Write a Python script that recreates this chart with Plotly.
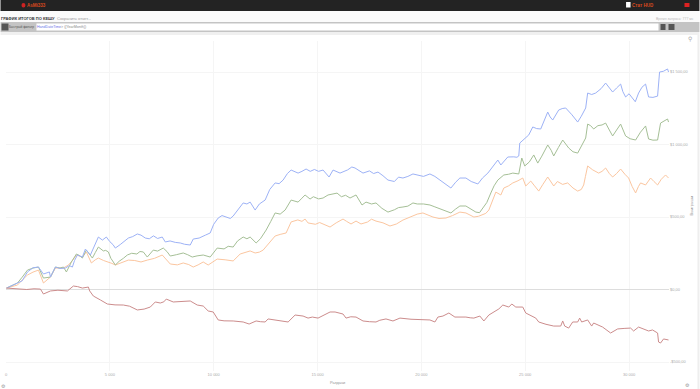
import plotly.graph_objects as go

hands_blue = [24,553,1034,1563,1803,2091,2140,2380,2861,3197,3438,3678,3822,4063,4447,4640,4832,5265,5890,6322,6707,7524,7669,8390,8871,9015,9832,10217,10650,10938,11419,11755,11996,12477,12958,13343,13728,14064,14449,15266,15555,15747,16084,16805,17190,17911,18392,19113,19594,20412,20893,21422,21855,22143,22720,23201,23681,23826,24162,24690,24738,25171,25363,25747,26084,26324,26612,26949,27526,27911,28007,28392,28872,29209,29594,29834,30171,30459,30796,30940,31373,31469,31853,31901]
winnings_blue = [10,45,121,155,107,121,86,155,148,155,238,224,279,238,362,341,362,286,355,383,355,362,328,321,307,348,390,493,500,507,597,603,548,617,735,755,824,803,831,824,776,824,803,838,803,810,755,769,797,797,755,700,769,769,728,803,893,859,914,921,1010,1066,1121,1107,1224,1169,1238,1252,1155,1252,1355,1355,1424,1362,1417,1328,1321,1355,1417,1328,1334,1500,1521,1500]
hands_blue_more = [780,1300,2600,3050,3300,5000,5150,5500,5700,6100,6500,6900,7100,7300,7900,8150,8600,9300,9600,10000,10400,10800,11150,11600,12200,12700,13150,13550,14250,14650,14850,15050,16450,16650,17500,17700,18150,18700,18900,19350,19850,20100,20650,21100,21650,22400,22950,23450,24450,24600,25550,26200,26780,27250,27700,28200,28650,29050,29400,29700,30000,30300,30620,31150,31650]
winnings_blue_more = [60,150,145,165,200,330,310,310,330,365,375,350,370,352,335,325,312,355,375,450,510,490,550,590,590,690,730,800,815,815,828,815,825,845,818,800,785,745,775,780,790,780,780,735,740,745,770,850,915,912,1110,1190,1248,1205,1195,1345,1385,1395,1390,1365,1350,1295,1395,1325,1505]

hands_green = [24,553,1034,1563,1803,2140,2380,2765,2909,3390,3678,3870,4159,4447,4688,4928,5265,5842,6611,6803,7091,7572,7909,8534,8967,9496,9832,10169,10938,11419,11755,12044,12525,12958,13439,13728,14064,14400,14640,15266,15507,15940,16565,16853,17141,17334,17815,18392,19113,19594,20412,20893,21422,21855,22143,22624,22960,23345,23681,23970,24402,24690,24834,24978,25411,25604,26084,26373,26805,27093,27526,27911,28007,28296,28872,29209,29594,29834,30315,30796,30940,31373,31517,31853,31901]
winnings_green = [10,45,134,155,79,86,155,155,121,245,217,272,217,293,266,259,169,238,259,224,272,286,231,252,224,238,224,286,293,362,362,321,410,528,548,617,603,652,624,631,652,665,631,652,583,603,597,534,569,597,583,555,528,576,576,534,562,666,755,790,803,797,907,852,928,872,997,921,1031,976,941,1045,1141,1107,1148,1059,1141,1059,1031,1128,1038,1031,1148,1176,1155]
hands_green_more = [780,1300,2600,3150,3530,4300,4800,5050,5450,5650,6050,6300,6450,6950,7300,7750,8200,8750,9200,10500,10700,11150,11600,12250,12750,13200,14250,14800,15050,15750,16150,16350,17600,18100,18700,18900,19350,19800,20100,20650,21150,21650,22400,22800,23150,23500,24200,25200,25800,26250,26600,27300,27700,28150,28500,28700,29050,29400,30050,30550,31150]
winnings_green_more = [85,148,148,190,235,255,270,215,195,215,250,245,262,250,265,262,240,240,232,280,298,335,350,350,470,520,630,640,625,660,640,650,590,560,550,565,575,590,590,570,540,555,555,530,600,715,795,880,920,960,980,950,990,1130,1130,1135,1100,1100,1040,1085,1030]

hands_orange = [24,553,1034,1563,1803,2140,2380,2765,3005,3390,3678,3870,4111,4447,4928,5265,5890,6803,7524,7909,8534,9015,9496,9736,10169,10938,11275,11755,11996,12381,12958,13487,13728,14400,14544,15266,15603,16228,16613,16853,17093,17815,18488,19113,20075,20556,21181,21855,22143,22528,22960,23249,23585,23826,23970,24402,24882,25026,25267,25651,26084,26373,27045,27526,27815,28007,28536,28872,29209,29594,29979,30315,30555,30796,31036,31373,31757,31901]
winnings_orange = [10,31,100,134,45,86,148,148,169,238,224,259,183,217,190,169,203,203,238,176,183,155,190,169,210,197,245,266,252,272,369,390,466,486,459,452,431,486,452,472,452,472,438,479,528,500,493,534,528,500,514,548,672,652,700,735,769,714,748,679,776,714,735,679,721,852,803,838,776,831,769,666,735,721,769,721,790,769]
hands_orange_more = [780,1300,2600,3200,3530,4300,4700,5100,5600,6200,6500,7150,7750,8250,8800,9250,10550,11500,12200,12650,13200,14050,14250,14900,15100,15900,16400,17400,17600,18150,18800,19500,19800,20300,20850,21500,22750,23100,23450,24200,24650,25450,25850,26550,26800,27300,27700,27900,28250,28700,29050,29400,29800,30150,30450,31200,31550]
winnings_orange_more = [65,120,150,200,232,205,200,180,190,200,190,215,205,170,172,170,205,255,258,320,380,480,470,450,462,460,470,465,485,460,452,500,520,515,490,510,505,525,620,715,750,715,725,745,725,700,690,780,825,815,800,800,795,710,710,745,760]

hands_red = [24,553,1659,1803,2140,2957,3245,3678,3967,4207,4544,4880,5649,6322,6947,7188,7428,7717,8053,8871,9207,9496,9736,9977,10217,10938,11419,11707,12044,12477,12621,13006,13583,13920,14304,14544,15025,15603,15844,16228,16372,16853,17190,17815,18296,18632,18969,20412,20652,20796,21037,21325,21614,22143,22528,22816,23008,23249,23730,23922,24210,24354,24547,24882,25026,25507,25651,26373,26709,26805,26901,27093,27286,27526,27622,27718,28007,28200,28296,28728,29113,29450,30075,30219,30459,30940,31132,31373,31421,31517,31661,31901]
winnings_red = [10,3,3,-31,-10,-10,24,10,17,-45,-72,-100,-107,-141,-121,-86,-93,-66,-86,-79,-107,-114,-148,-155,-210,-217,-224,-238,-217,-224,-203,-210,-224,-176,-183,-197,-197,-155,-155,-169,-197,-190,-217,-224,-203,-217,-197,-210,-224,-190,-183,-162,-190,-190,-197,-183,-217,-176,-134,-107,-121,-100,-121,-121,-162,-197,-224,-252,-252,-217,-252,-266,-224,-224,-197,-224,-210,-252,-231,-259,-300,-272,-266,-286,-259,-286,-279,-300,-362,-369,-341,-348]
hands_red_more = [1000,1350,2500,3450,4030,4700,5250,5950,6650,7600,8500,9350,10500,11200,12250,13300,14100,14750,15300,16000,16600,17500,18000,19500,20000,21850,22350,23500,26000,28500,29800]
winnings_red_more = [0,5,-5,20,-10,-85,-106,-115,-135,-85,-82,-112,-216,-222,-222,-218,-180,-190,-178,-160,-188,-222,-212,-205,-208,-188,-195,-155,-240,-245,-268]

x_ticks = [0,5000,10000,15000,20000,25000,30000]
x_labels = ["0","5 000","10 000","15 000","20 000","25 000","30 000"]
y_ticks = [-500,0,500,1000,1500]
y_labels = ["-$500,00","$0,00","$500,00","$1 000,00","$1 500,00"]

W, H = 700, 389
L, R, T, B = 5.5, 669.5, 41, 371
px = lambda x: (x - L) / (R - L)
py = lambda y: (B - y) / (B - T)

def merged(h1, v1, h2, v2):
    pts = sorted(zip(h1 + h2, v1 + v2))
    return [p[0] for p in pts], [p[1] for p in pts]

fig = go.Figure()
for h1, v1, h2, v2, c in [(hands_orange, winnings_orange, hands_orange_more, winnings_orange_more, "#fbc6a0"),
                          (hands_green, winnings_green, hands_green_more, winnings_green_more, "#a5bf96"),
                          (hands_blue, winnings_blue, hands_blue_more, winnings_blue_more, "#9db2f6"),
                          (hands_red, winnings_red, hands_red_more, winnings_red_more, "#cc8c8c")]:
    xs, ys = merged(h1, v1, h2, v2)
    fig.add_trace(go.Scatter(x=xs, y=ys, mode="lines", line=dict(color=c, width=1), hoverinfo="skip", showlegend=False))

def rect(x0, y0, x1, y1, color, kind="rect"):
    return dict(type=kind, xref="paper", yref="paper", x0=px(x0), x1=px(x1), y0=py(y1), y1=py(y0),
                fillcolor=color, line=dict(width=0), layer="below")

shapes = [
    rect(0, 0, 700, 11, "#232323"),
    rect(0, 11, 700, 22, "#fbfbfb"),
    rect(0, 22, 700, 32, "#c4c4c4"),
    rect(36, 23.5, 659, 30.5, "#ffffff"),
    rect(1, 23.5, 8, 30.5, "#555555"),
    rect(661, 24, 666, 30, "#555555"),
    rect(669, 24, 675, 30, "#555555"),
    rect(0, 32, 700, 35, "#f0f0f0"),
    rect(698, 35, 700, 389, "#eeeeee"),
    rect(21, 3, 25, 7.5, "#cc2222", "circle"),
    rect(626.5, 2, 631, 7.5, "#ffffff"),
    rect(685, 3, 690, 7, "#dd2222"),
]

def note(x, y, text, color="#999999", size=4, xanchor="left", bold=False, angle=0):
    return dict(xref="paper", yref="paper", x=px(x), y=py(y), text=f"<b>{text}</b>" if bold else text,
                showarrow=False, xanchor=xanchor, yanchor="middle", textangle=angle, borderpad=0, borderwidth=0,
                font=dict(size=size, color=color, family="Liberation Sans"))

annotations = [
    note(27, 5.5, "AsMi333", "#d84a1e", 4.5, bold=True),
    note(632, 5.5, "Стат HUD", "#d84a1e", 4.5, bold=True),
    note(0, 18, "ГРАФИК ИТОГОВ ПО КЕШУ", "#333333", 4, bold=True),
    note(57, 18.5, "Сохранить отчет...", "#999999", 4),
    note(9, 26.5, "Быстрый фильтр", "#555555", 3.2),
    note(36.5, 26.5, "<span style='color:#6a72e8'>HandDateTime</span>&gt; (&#123;YearMonth&#125;)", "#888888", 3.6),
    note(695, 19, "Время запроса: 777 мс", "#bbbbbb", 3.5, xanchor="right"),
    note(338, 382.5, "Раздачи", "#999999", 4, xanchor="center"),
    note(692, 205, "Выигрыши", "#999999", 4, xanchor="center", angle=-90),
    note(691, 39, "⚲", "#aaaaaa", 6, xanchor="center"),
    note(3, 385.5, "⚙", "#999999", 5, xanchor="center"),
    note(688, 385, "⚙", "#999999", 5, xanchor="center"),
]

fig.update_layout(
    width=W, height=H, autosize=False,
    margin=dict(l=L, r=W - R, t=T, b=H - B, pad=0),
    paper_bgcolor="#ffffff", plot_bgcolor="#ffffff",
    shapes=shapes, annotations=annotations,
    xaxis=dict(range=[0, 31923], tickvals=x_ticks, ticktext=x_labels, showgrid=True, gridcolor="#f5f5f5", gridwidth=1,
               zeroline=False, showline=False, ticks="", tickfont=dict(size=4, color="#aaaaaa", family="Liberation Sans")),
    yaxis=dict(range=[-562, 1714], side="right", tickvals=y_ticks, ticktext=y_labels, showgrid=True, gridcolor="#f5f5f5", gridwidth=1,
               zeroline=True, zerolinecolor="#dddddd", zerolinewidth=1, showline=False, ticks="",
               tickfont=dict(size=4, color="#aaaaaa", family="Liberation Sans")),
)

fig.write_html("out.html", config=dict(displayModeBar=False), post_script="document.body.style.margin='0';")
